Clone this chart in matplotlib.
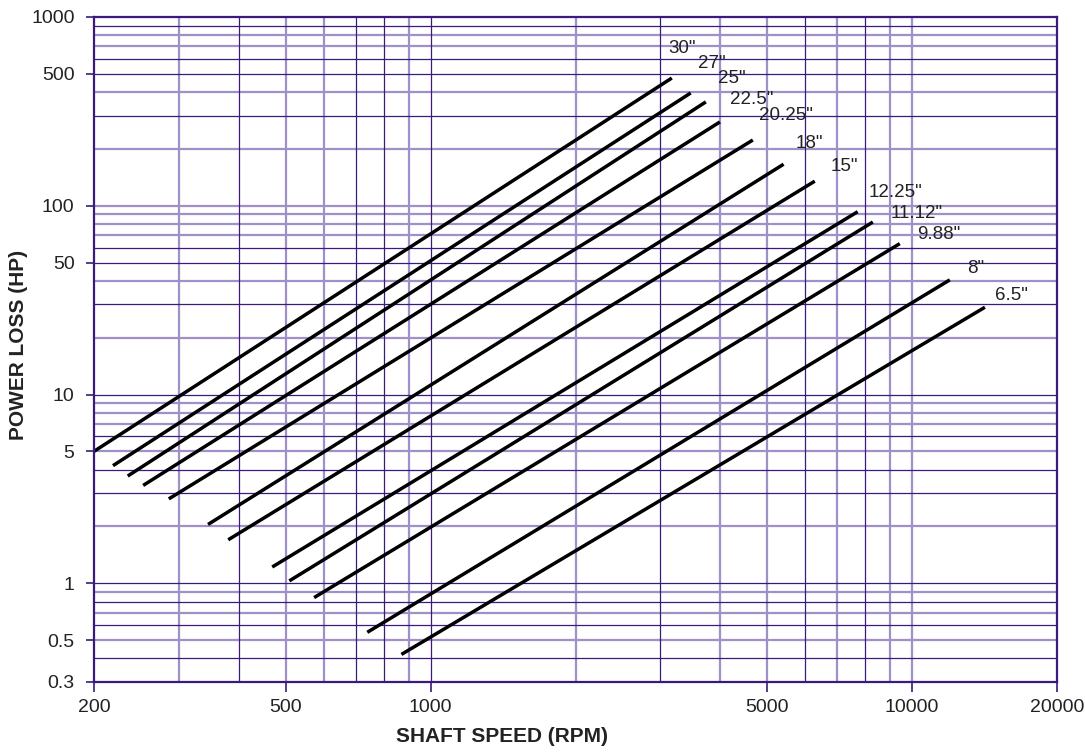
import matplotlib
matplotlib.use("Agg")
from matplotlib import pyplot as plt
from matplotlib.ticker import NullLocator
import numpy as np

plt.rcParams['font.family'] = ['Liberation Sans', 'DejaVu Sans']

# seal sizes and the end points of each power-loss line
sizes = ['30"', '27"', '25"', '22.5"', '20.25"', '18"', '15"', '12.25"', '11.12"', '9.88"', '8"', '6.5"']
rpm_start = [200, 219, 235, 253, 286, 345, 380, 469, 509, 573, 739, 870]
hp_start = [5.0, 4.2, 3.7, 3.3, 2.8, 2.05, 1.7, 1.22, 1.03, 0.84, 0.55, 0.42]
rpm_end = [3170, 3470, 3730, 3990, 4670, 5410, 6280, 7710, 8290, 9430, 11980, 14170]
hp_end = [475, 396, 355, 278, 223, 166, 135, 93, 82, 63, 40.5, 29]

x_ticks = [200, 500, 1000, 5000, 10000, 20000]
y_ticks = [0.3, 0.5, 1, 5, 10, 50, 100, 500, 1000]

# graph-paper grid: dark thin lines and light thick lines
x_grid_dark = [400, 700, 800, 1000, 3000, 6000, 8000]
x_grid_light = [300, 500, 600, 900, 2000, 4000, 5000, 7000, 9000, 10000]
y_grid_dark = [0.4, 0.6, 0.8, 1, 3, 4, 6, 10, 30, 50, 60, 300, 500, 600, 900]
y_grid_light = [0.5, 0.7, 0.9, 2, 5, 7, 8, 9, 20, 40, 70, 80, 90, 100, 200, 400, 700, 800]

# label offsets (pixels) from each line end
label_offsets = [(-3, 30), (7, 29), (12, 23), (10, 22), (6, 25), (12, 21),
                 (16, 15), (11, 19), (18, 9), (17, 9), (17, 11), (10, 12)]

dark = '#3a1a7c'
light = '#a090c8'
txt = '#222222'

W, H = 1085, 753
fig = plt.figure(figsize=(W / 100, H / 100), dpi=100)
ax = fig.add_axes([94 / W, (H - 682) / H, (1057 - 94) / W, (682 - 17) / H])

ax.set_xscale('log')
ax.set_yscale('log')
ax.set_xlim(200, 20000)
ax.set_ylim(0.3, 1000)

for v in x_grid_light:
    ax.axvline(v, color=light, lw=1.6, zorder=1)
for v in y_grid_light:
    ax.axhline(v, color=light, lw=1.6, zorder=1)
for v in x_grid_dark:
    ax.axvline(v, color=dark, lw=0.9, zorder=1.5)
for v in y_grid_dark:
    ax.axhline(v, color=dark, lw=0.9, zorder=1.5)

for name, x0, y0, x1, y1, (dx, dy) in zip(sizes, rpm_start, hp_start, rpm_end, hp_end, label_offsets):
    ax.plot([x0, x1], [y0, y1], color='black', lw=2.5, solid_capstyle='butt', zorder=3)
    ax.annotate(name, xy=(x1, y1), xytext=(dx, dy), textcoords='offset pixels',
                ha='left', va='center', fontsize=13.5, color=txt, zorder=4)

ax.xaxis.set_minor_locator(NullLocator())
ax.yaxis.set_minor_locator(NullLocator())
ax.set_xticks(x_ticks)
ax.set_xticklabels([str(t) for t in x_ticks])
ax.set_yticks(y_ticks)
ax.set_yticklabels([f'{t:g}' for t in y_ticks])
ax.tick_params(axis='x', length=7, width=1.2, color=dark, pad=5, labelsize=14, labelcolor=txt)
ax.tick_params(axis='y', length=6, width=1.2, color=dark, pad=8, labelsize=14, labelcolor=txt)

for s in ax.spines.values():
    s.set_color(dark)
    s.set_linewidth(1.6)
    s.set_zorder(5)

ax.set_xlabel('SHAFT SPEED (RPM)', fontsize=15, fontweight='bold', color=txt)
ax.set_ylabel('POWER LOSS (HP)', fontsize=15, fontweight='bold', color=txt)
ax.xaxis.label.set_va('center')
ax.yaxis.label.set_va('center')
ax.yaxis.label.set_ha('center')
ax.xaxis.set_label_coords((502 - 94) / 963, (682 - 737) / 665)
ax.yaxis.set_label_coords((19 - 94) / 963, (682 - 345) / 665)

fig.savefig('out.png', dpi=100)
